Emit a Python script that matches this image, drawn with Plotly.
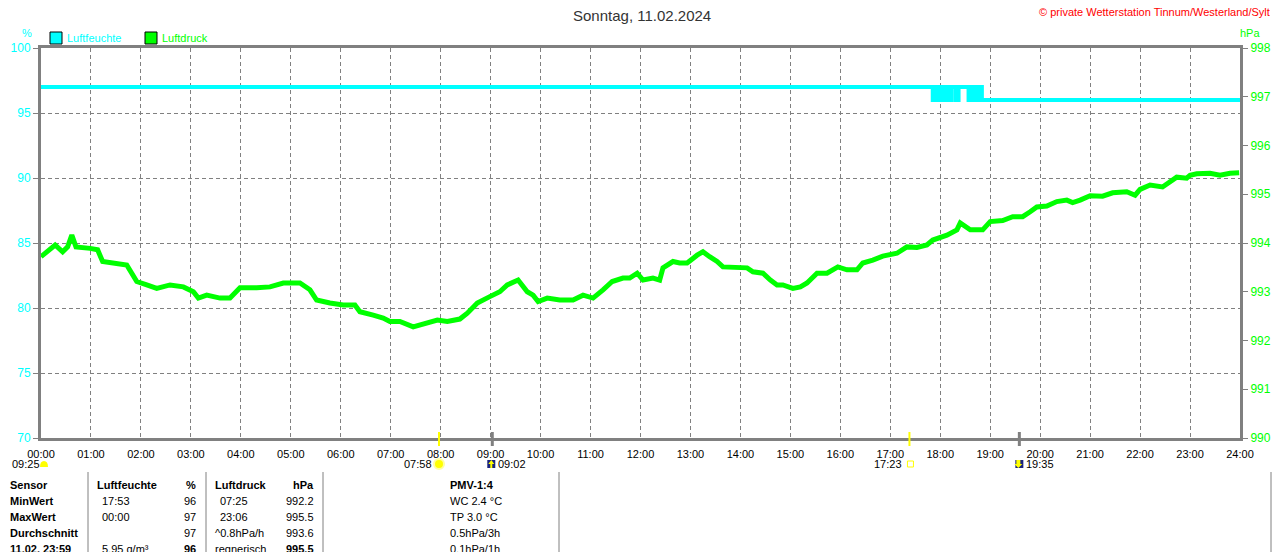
import plotly.graph_objects as go

# Sonntag, 11.02.2024 - Luftfeuchte / Luftdruck (Zeit in Minuten seit 00:00)

hum_min = [0, 1071, 1073, 1075, 1077, 1079, 1081, 1083, 1085, 1087, 1089, 1091, 1093,
           1098, 1100, 1101, 1102, 1114, 1116, 1118, 1120, 1122, 1124, 1126, 1128, 1130, 1440]
hum_pct = [97, 96, 97, 96, 97, 96, 97, 96, 97, 96, 97, 96, 97,
           96, 97, 96, 97, 96, 97, 96, 97, 96, 97, 96, 97, 96, 96]

press_min = [0, 11, 17, 26, 32, 37, 42, 59, 68, 74, 86, 95, 103, 109, 115, 127, 139, 155, 171,
             183, 189, 199, 215, 227, 239, 259, 275, 291, 311, 323, 331, 347, 363, 377, 383, 399,
             411, 419, 431, 447, 464, 476, 488, 503, 512, 524, 539, 551, 560, 573, 584, 591, 597,
             608, 623, 639, 651, 663, 675, 686, 699, 707, 716, 723, 735, 743, 747, 759, 767, 776,
             788, 795, 803, 812, 819, 836, 848, 855, 867, 876, 884, 891, 903, 912, 920, 932, 944,
             957, 968, 980, 987, 999, 1011, 1028, 1040, 1052, 1064, 1071, 1088, 1100, 1104, 1116,
             1131, 1140, 1155, 1167, 1179, 1188, 1196, 1208, 1220, 1232, 1239, 1248, 1260, 1275,
             1287, 1304, 1314, 1320, 1332, 1347, 1356, 1364, 1376, 1380, 1388, 1404, 1416, 1428, 1439]
press_hpa = [993.72, 993.86, 993.96, 993.82, 993.92, 994.16, 993.92, 993.89, 993.86, 993.62,
             993.59, 993.55, 993.55, 993.38, 993.21, 993.14, 993.07, 993.14, 993.10, 993.00,
             992.87, 992.93, 992.87, 992.87, 993.08, 993.08, 993.10, 993.18, 993.18, 993.04,
             992.83, 992.77, 992.73, 992.73, 992.59, 992.52, 992.46, 992.39, 992.39, 992.28,
             992.36, 992.42, 992.39, 992.44, 992.56, 992.77, 992.90, 993.00, 993.14, 993.24,
             993.00, 992.93, 992.80, 992.87, 992.83, 992.83, 992.93, 992.87, 993.04, 993.21,
             993.28, 993.28, 993.38, 993.24, 993.28, 993.24, 993.49, 993.62, 993.59, 993.59,
             993.75, 993.82, 993.72, 993.62, 993.51, 993.49, 993.49, 993.41, 993.38, 993.24,
             993.14, 993.14, 993.07, 993.10, 993.18, 993.38, 993.38, 993.51, 993.45, 993.45,
             993.59, 993.65, 993.73, 993.79, 993.92, 993.91, 993.96, 994.06, 994.16, 994.27,
             994.41, 994.27, 994.27, 994.44, 994.46, 994.54, 994.54, 994.64, 994.74, 994.76,
             994.85, 994.88, 994.83, 994.88, 994.97, 994.96, 995.03, 995.05, 994.98, 995.10,
             995.19, 995.15, 995.26, 995.35, 995.33, 995.39, 995.42, 995.43, 995.39, 995.43, 995.44]

hour_ticks = list(range(0, 1441, 60))
hour_labels = ["%02d:00" % (m // 60) for m in hour_ticks]
hum_ticks = [70, 75, 80, 85, 90, 95, 100]
press_ticks = [990, 991, 992, 993, 994, 995, 996, 997, 998]

# Sonne / Mond
sun_times = ["07:58", "09:02", "17:23", "19:35"]
moon_time = "09:25"

row_labels = ["Sensor", "MinWert", "MaxWert", "Durchschnitt", "11.02. 23:59"]
hum_text = ["Luftfeuchte", "17:53", "00:00", "", "5.95 g/m³"]
hum_vals = ["%", "96", "97", "97", "96"]
press_text = ["Luftdruck", "07:25", "23:06", "^0.8hPa/h", "regnerisch"]
press_vals = ["hPa", "992.2", "995.5", "993.6", "995.5"]
pmv_text = ["PMV-1:4", "WC 2.4 °C", "TP 3.0 °C", "0.5hPa/3h", "0.1hPa/1h"]

CYAN = "#00ffff"
GREEN = "#00ff00"
GRAY = "#808080"
FONT = "Liberation Sans"

# die Seite hat 8px Rand, alle Bildschirm-Koordinaten darum um 8px verschieben
OFF = 8
W, H = 1280 - OFF, 552 - OFF
L, T = 41 - OFF, 48 - OFF
R, B = W - (1240 - OFF), H - (438 - OFF)


def px(x):
    return (x - OFF - L) / (W - L - R)


def py(y):
    return (H - B - (y - OFF)) / (H - T - B)


def to_min(s):
    h, m = s.split(":")
    return int(h) * 60 + int(m)


fig = go.Figure()

fig.add_trace(go.Scatter(x=press_min, y=press_hpa, yaxis="y2", mode="lines",
                         line=dict(color=GREEN, width=5), name="Luftdruck"))
fig.add_trace(go.Scatter(x=hum_min, y=hum_pct, mode="lines", line_shape="hv",
                         line=dict(color=CYAN, width=4), name="Luftfeuchte"))

ann = []
shapes = []


def txt(x, y, s, color="black", size=11, anchor="left", bold=False):
    if bold:
        s = "<b>" + s + "</b>"
    ann.append(dict(xref="paper", yref="paper", x=px(x), y=py(y), text=s, showarrow=False,
                    xanchor=anchor, yanchor="middle", font=dict(family=FONT, size=size, color=color)))


def icon_ann(m, shift, s, anchor):
    ann.append(dict(xref="x", yref="paper", x=m, xshift=shift, y=py(464), text=s, showarrow=False,
                    xanchor=anchor, yanchor="middle", font=dict(family=FONT, size=11, color="black")))


# Titel und Copyright
txt(642, 15, "Sonntag, 11.02.2024", color="#333333", size=15, anchor="center")
txt(1272, 12, "© private Wetterstation Tinnum/Westerland/Sylt", color="#ff0000", size=11, anchor="right")

# Legende
for x0, col, name in [(50, CYAN, "Luftfeuchte"), (145, GREEN, "Luftdruck")]:
    shapes.append(dict(type="rect", xref="paper", yref="paper", x0=px(x0), x1=px(x0 + 12),
                       y0=py(32), y1=py(44), fillcolor=col, line=dict(color="black", width=1)))
    txt(x0 + 15, 38, name, color=col)
txt(27, 33, "%", color=CYAN, anchor="center")
txt(1250, 33, "hPa", color=GREEN, anchor="center")

# Markierungen Sonnenaufgang / -untergang
sun_col = ["#ffff00", GRAY, "#ffff00", GRAY]
for t, c in zip(sun_times, sun_col):
    m = to_min(t)
    shapes.append(dict(type="line", xref="x", yref="paper", x0=m, x1=m, y0=py(432), y1=py(446),
                       line=dict(color=c, width=3 if c == GRAY else 2)))

m = to_min(sun_times[0])
icon_ann(m, -5, sun_times[0], "right")
shapes.append(dict(type="circle", xref="x", yref="paper", xsizemode="pixel", ysizemode="pixel",
                   xanchor=m, yanchor=py(464), x0=-5, x1=5, y0=-5, y1=5,
                   fillcolor="#ffff00", line=dict(color="#ffffa0", width=2)))

m = to_min(sun_times[1])
icon_ann(m, 4, sun_times[1], "left")
shapes.append(dict(type="rect", xref="x", yref="paper", xsizemode="pixel", ysizemode="pixel",
                   xanchor=m, yanchor=py(464), x0=-5, x1=3, y0=-4, y1=4,
                   fillcolor="#1a237e", line=dict(width=0)))
shapes.append(dict(type="path", xref="x", yref="paper", xsizemode="pixel", ysizemode="pixel",
                   xanchor=m, yanchor=py(464), path="M -2,-4 L -2,0 L -4,0 L -1,4 L 2,0 L 0,0 L 0,-4 Z",
                   fillcolor="#ffff00", line=dict(width=0)))

m = to_min(sun_times[2])
icon_ann(m, -5, sun_times[2], "right")
shapes.append(dict(type="rect", xref="x", yref="paper", xsizemode="pixel", ysizemode="pixel",
                   xanchor=m, yanchor=py(464), x0=-2, x1=4, y0=-3, y1=3,
                   fillcolor="white", line=dict(color="#ffff00", width=1)))

m = to_min(sun_times[3])
icon_ann(m, 5, sun_times[3], "left")
shapes.append(dict(type="rect", xref="x", yref="paper", xsizemode="pixel", ysizemode="pixel",
                   xanchor=m, yanchor=py(464), x0=-4, x1=4, y0=-4, y1=4,
                   fillcolor="#1a237e", line=dict(width=0)))
shapes.append(dict(type="path", xref="x", yref="paper", xsizemode="pixel", ysizemode="pixel",
                   xanchor=m, yanchor=py(464), path="M -3,4 L -3,0 L -5,0 L -1,-4 L 3,0 L 1,0 L 1,4 Z",
                   fillcolor="#ffff00", line=dict(width=0)))

# Mond
txt(10, 464, moon_time)
shapes.append(dict(type="path", xref="paper", yref="paper", xsizemode="pixel", ysizemode="pixel",
                   xanchor=px(44), yanchor=py(467), path="M -4,0 Q -4,6 0,6 Q 4,6 4,0 Z",
                   fillcolor="#ffff00", line=dict(width=0)))

# Tabelle
for xl in [88, 206, 323, 559, 1271]:
    shapes.append(dict(type="line", xref="paper", yref="paper", x0=px(xl), x1=px(xl),
                       y0=py(472), y1=py(560), line=dict(color=GRAY, width=1)))

row_y = [485, 501, 517, 533, 549]
for i, y in enumerate(row_y):
    head = i == 0
    txt(8, y, row_labels[i], bold=True)
    txt(95 if head else 100, y, hum_text[i], bold=head)
    txt(198, y, hum_vals[i], anchor="right", bold=head or i == 4)
    txt(213 if (head or i >= 3) else 218, y, press_text[i], bold=head)
    txt(316, y, press_vals[i], anchor="right", bold=head or i == 4)
    txt(448, y, pmv_text[i], bold=head)

fig.update_layout(
    width=W, height=H,
    margin=dict(l=L, r=R, t=T, b=B, pad=0, autoexpand=False),
    paper_bgcolor="white", plot_bgcolor="white",
    showlegend=False,
    font=dict(family=FONT, size=11, color="black"),
    xaxis=dict(range=[0, 1440], tickvals=hour_ticks, ticktext=hour_labels, automargin=False,
               showgrid=True, gridcolor=GRAY, griddash="4px,3px", gridwidth=1,
               showline=True, linecolor=GRAY, linewidth=3, mirror=True,
               ticks="", zeroline=False, ticklabelstandoff=4,
               tickfont=dict(size=11, color="black")),
    yaxis=dict(range=[70, 100], tickvals=hum_ticks, showgrid=True, gridcolor=GRAY, automargin=False,
               griddash="4px,3px", gridwidth=1, showline=True, linecolor=GRAY, linewidth=3,
               ticks="outside", ticklen=5, tickcolor=GRAY, zeroline=False,
               tickfont=dict(size=12, color=CYAN)),
    yaxis2=dict(range=[990, 998], tickvals=press_ticks, overlaying="y", side="right", automargin=False,
                showgrid=False, showline=True, linecolor=GRAY, linewidth=3,
                ticks="outside", ticklen=5, tickcolor=GRAY, zeroline=False,
                tickfont=dict(size=12, color=GREEN)),
    annotations=ann,
    shapes=shapes,
)

fig.write_html("out.html")
